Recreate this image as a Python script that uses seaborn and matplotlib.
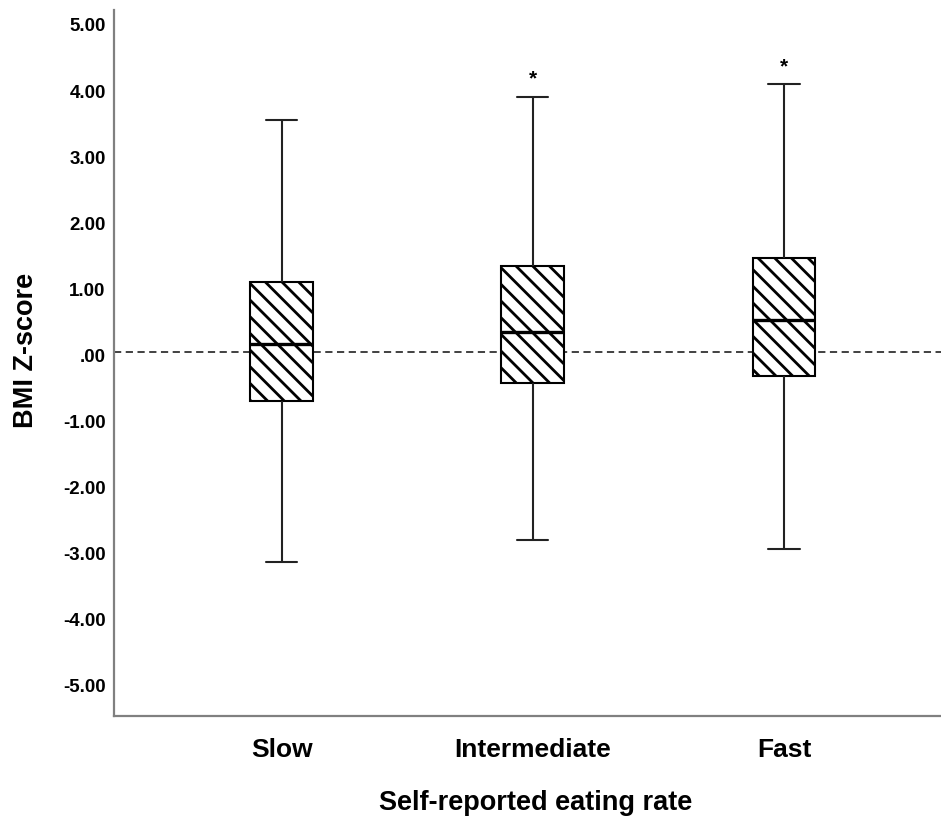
import numpy as np
import pandas as pd
import matplotlib
matplotlib.use("Agg")
import matplotlib.pyplot as plt
import matplotlib.transforms as mtransforms
import seaborn as sns

# Eating-rate groups and five-number summaries of BMI z-score
categories = ["Slow", "Intermediate", "Fast"]
whisker_low = [-3.17, -2.84, -2.97]
q1 = [-0.73, -0.47, -0.36]
median = [0.13, 0.31, 0.49]
q3 = [1.06, 1.30, 1.43]
whisker_high = [3.52, 3.87, 4.06]
significant = [False, True, True]
ytick_values = [5, 4, 3, 2, 1, 0, -1, -2, -3, -4, -5]
ytick_labels = ["5.00", "4.00", "3.00", "2.00", "1.00", ".00",
                "-1.00", "-2.00", "-3.00", "-4.00", "-5.00"]

# Long-form table: five values per group reproduce min, quartiles, median, max
rows = []
for i, cat in enumerate(categories):
    for v in (whisker_low[i], q1[i], median[i], q3[i], whisker_high[i]):
        rows.append({"rate": cat, "z": v})
df = pd.DataFrame(rows)

sns.set_theme(style="white")
plt.rcParams["font.family"] = ["Liberation Sans", "DejaVu Sans"]
plt.rcParams["font.weight"] = "bold"
plt.rcParams["hatch.linewidth"] = 2.0
plt.rcParams["hatch.color"] = "black"
plt.rcParams["text.color"] = "black"
plt.rcParams["axes.labelcolor"] = "black"
plt.rcParams["xtick.color"] = "black"
plt.rcParams["ytick.color"] = "black"

fig = plt.figure(figsize=(9.41, 8.18), dpi=100)
ax = fig.add_axes([114 / 941, 1 - 716 / 818, 1 - 114 / 941, (716 - 10) / 818])

# reference line at zero, beneath the boxes
ax.axhline(0, color="#333333", lw=1.3, ls=(0, (4, 2.5)), zorder=0)

sns.boxplot(
    data=df, x="rate", y="z", order=categories,
    whis=(0, 100), width=0.25, color="white", linecolor="black",
    linewidth=1.5, fill=True, showfliers=False,
    medianprops={"linewidth": 2.4, "color": "black"},
    whiskerprops={"color": "#222222"}, capprops={"color": "#222222"},
    ax=ax, zorder=2,
)
for patch in ax.patches:
    patch.set_hatch("\\\\")
    patch.set_facecolor("white")
    patch.set_edgecolor("black")

# significance markers above the upper whiskers
for i, flag in enumerate(significant):
    if flag:
        ax.text(i, whisker_high[i] + 0.12, "*", ha="center", va="bottom",
                fontsize=15, color="black")

ax.set_xlim(-0.667, 2.625)
ax.set_ylim(-5.50, 5.18)
ax.set_yticks(ytick_values)
ax.set_yticklabels(ytick_labels, fontsize=13.5, fontweight="bold")
ax.set_xticks(range(len(categories)))
ax.set_xticklabels(categories, fontsize=19, fontweight="bold")
ax.tick_params(axis="y", length=0, pad=6)
ax.tick_params(axis="x", length=0, pad=16)

# y tick labels sit slightly below their tick values
shift = mtransforms.ScaledTranslation(0, -3 / 100, fig.dpi_scale_trans)
for lab in ax.get_yticklabels():
    lab.set_transform(lab.get_transform() + shift)

ax.set_xlabel("Self-reported eating rate", fontsize=19.5, fontweight="bold", va="center")
ax.xaxis.set_label_coords(0.510, -0.123)
ax.set_ylabel("BMI Z-score", fontsize=19.5, fontweight="bold", va="center")
ax.yaxis.set_label_coords((26 - 114) / 827, 0.518)

for side in ("top", "right"):
    ax.spines[side].set_visible(False)
for side in ("left", "bottom"):
    ax.spines[side].set_color("#808080")
    ax.spines[side].set_linewidth(1.6)

fig.savefig("out.png", dpi=100)
